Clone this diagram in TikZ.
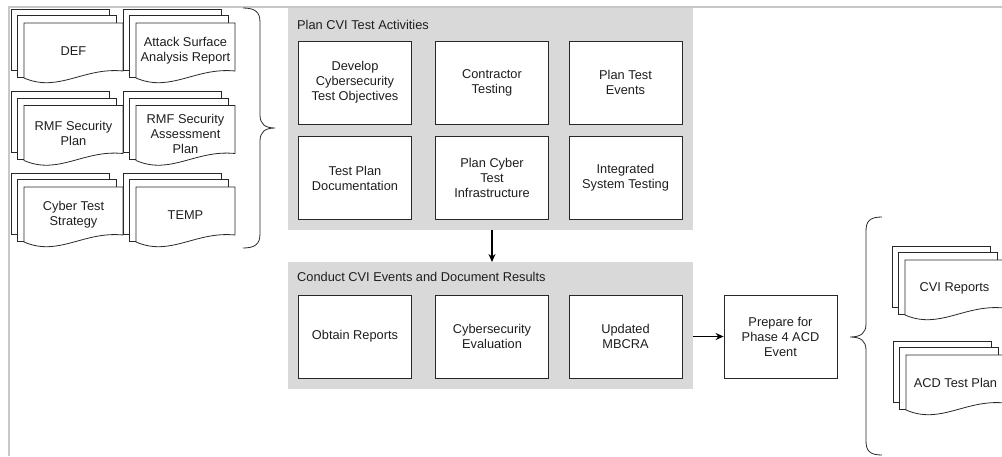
\documentclass[tikz,border=0pt]{standalone}
\usepackage{fontspec}
\setmainfont{Liberation Sans}
\usetikzlibrary{arrows.meta}
\definecolor{panelgray}{RGB}{217,217,217}
\definecolor{framegray}{RGB}{200,200,200}
\definecolor{linedark}{RGB}{40,40,40}
\definecolor{textdark}{RGB}{30,30,30}
\tikzset{
  docline/.style={draw=linedark, line width=0.8pt},
  doctext/.style={text=textdark, align=center, font=\fontsize{12.8}{15}\selectfont, inner sep=0pt},
  taskbox/.style={draw=linedark, line width=0.8pt, fill=white, minimum width=113pt, minimum height=83pt,
                  align=center, text=textdark, font=\fontsize{12.8}{15}\selectfont, inner sep=0pt},
  panel/.style={fill=panelgray, draw=none},
  paneltitle/.style={anchor=base west, text=textdark, font=\fontsize{12.8}{15}\selectfont, inner sep=0pt},
  flow/.style={draw=black, line width=1.3pt, -{Stealth[length=8pt,width=7pt]}},
  bracestyle/.style={draw=linedark, line width=0.8pt},
  pics/docstack/.style={code={
    \draw[docline] (6.5,61) -- (0,61) -- (0,0) -- (98,0) -- (98,6.7);
    \draw[docline] (13,68) -- (6.5,68) -- (6.5,6.7) -- (105,6.7) -- (105,14);
    \draw[docline, fill=white] (13,69) -- (13,14) -- (112,14) -- (112,62)
       .. controls (72.4,58) and (47.7,84) .. (13,69) -- cycle;
    \node[doctext] (-t) at (62.5,42) {#1};
  }}
}
\begin{document}
\begin{tikzpicture}[x=1pt, y=-1pt]
\useasboundingbox (0,0) rectangle (1002,456);
% frame
\draw[framegray, line width=2pt] (9,456) -- (9,7) -- (1002,7);

% input documents
\pic (dA) at (11,9) {docstack={DEF}};
\pic (dB) at (123,9) {docstack={Attack Surface\\Analysis Report}};
\pic (dC) at (11,91.5) {docstack={RMF Security\\Plan}};
\pic (dD) at (123,91.5) {docstack={RMF Security\\Assessment\\Plan}};
\pic (dE) at (11,173) {docstack={Cyber Test\\Strategy}};
\pic (dF) at (123,173) {docstack={TEMP}};

% left brace
\draw[bracestyle] (243,8) .. controls (255,8) and (260,12) .. (260,22) -- (260,115)
  .. controls (260,124) and (265,128) .. (275,128)
  .. controls (265,128) and (260,132) .. (260,141) -- (260,234)
  .. controls (260,244) and (255,248) .. (243,248);

% panel 1
\node[panel, minimum width=405pt, minimum height=222pt, inner sep=0pt, anchor=north west] (p1) at (288,8) {};
\node[paneltitle] (p1t) at (297,29.5) {Plan CVI Test Activities};
\node[taskbox] (a1) at (355,82.5) {Develop\\Cybersecurity\\Test Objectives};
\node[taskbox] (a2) at (492,82.5) {Contractor\\Testing};
\node[taskbox] (a3) at (625.5,82.5) {Plan Test\\Events};
\node[taskbox] (a4) at (355,178) {Test Plan\\Documentation};
\node[taskbox] (a5) at (492,178) {Plan Cyber\\Test\\Infrastructure};
\node[taskbox] (a6) at (625.5,178) {Integrated\\System Testing};

% panel 2
\node[panel, minimum width=405pt, minimum height=127pt, inner sep=0pt, anchor=north west] (p2) at (288,262) {};
\node[paneltitle] (p2t) at (297,281.7) {Conduct CVI Events and Document Results};
\node[taskbox] (b1) at (355,336.5) {Obtain Reports};
\node[taskbox] (b2) at (492,336.5) {Cybersecurity\\Evaluation};
\node[taskbox] (b3) at (625.5,336.5) {Updated\\MBCRA};

\node[taskbox] (prep) at (780.5,336.5) {Prepare for\\Phase 4 ACD\\Event};

% connectors
\draw[flow] (p1.south -| a5.south) -- (p2.north -| a5.south);
\draw[flow] (p2.east |- prep.west) -- (prep.west);

% right brace
\draw[bracestyle] (882,217) .. controls (870,217) and (866,221) .. (866,231) -- (866,324)
  .. controls (866,333) and (861,337) .. (850,337)
  .. controls (861,337) and (866,341) .. (866,350) -- (866,441)
  .. controls (866,451) and (870,455) .. (882,455);

% output documents
\pic (dG) at (892,246) {docstack={CVI Reports}};
\pic (dH) at (893,341) {docstack={ACD Test Plan}};
\end{tikzpicture}
\end{document}
